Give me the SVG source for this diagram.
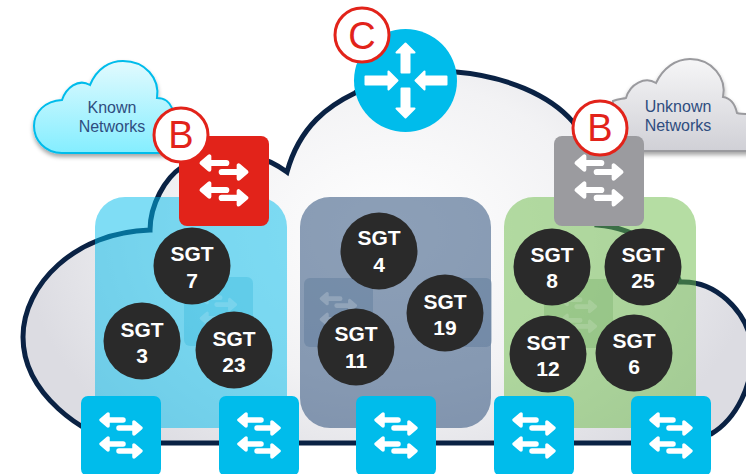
<svg xmlns="http://www.w3.org/2000/svg" xmlns:xlink="http://www.w3.org/1999/xlink" width="746" height="474" viewBox="0 0 746 474">
<style>
.sgt{font:bold 21px "Liberation Sans",Arial,sans-serif;fill:#fff;text-anchor:middle}
.dot{fill:#2a2a2a}
.tag{fill:#fff;stroke:#e2231a;stroke-width:3}
.tagt{font:38px "Liberation Sans",Arial,sans-serif;fill:#e2231a;text-anchor:middle}
.cl{font:16px "Liberation Sans",Arial,sans-serif;fill:#2f4d7f;text-anchor:middle}
.ar{stroke:#fff;stroke-width:5.500;stroke-linecap:round;fill:none}
.hd{fill:#fff;stroke:#fff;stroke-width:3.500;stroke-linejoin:round}
</style>
<defs>
<radialGradient id="main" gradientUnits="userSpaceOnUse" cx="390" cy="230" r="370" gradientTransform="translate(0 60) scale(1 .75)">
<stop offset="0" stop-color="#fff"/><stop offset=".55" stop-color="#f2f2f4"/><stop offset="1" stop-color="#dcdce2"/>
</radialGradient>
<linearGradient id="kn" x1="0" y1="0" x2="0" y2="1"><stop offset="0" stop-color="#e2fafe"/><stop offset="1" stop-color="#84eeff"/></linearGradient>
<linearGradient id="un" x1="0" y1="0" x2="0" y2="1"><stop offset="0" stop-color="#f6f6f7"/><stop offset="1" stop-color="#d0d0d6"/></linearGradient>
<filter id="sh" x="-10%" y="-10%" width="120%" height="130%"><feDropShadow dx="0" dy="3" stdDeviation="2" flood-color="#000" flood-opacity=".35"/></filter>
<g id="arrows">
<path class="ar" d="M26 24H42M54 32H38M26 48H42M54 55H38"/>
<path class="hd" d="M20 24 27 18V30ZM60 32 53 26V38ZM20 48 27 42V54ZM60 55 53 49V61Z"/>
</g>
</defs>

<g id="cloud-shapes">
<path id="big-cloud" d="M120 443C85 435 23 395 23 337C23 285 75 232 150 230C150 205 165 178 182 167C205 150 250 145 287 172C300 125 330 105 355 93C385 68 420 69 456 72C505 76 550 95 573 122C590 145 600 190 597 225C640 228 670 255 680 282C715 280 746 310 752 345C755 385 735 420 711 434L680 443Z" fill="url(#main)" stroke="#0a2244" stroke-width="5"/>
</g>

<g id="known-cloud">
<path d="M62 100C66 88 78 78 90 85C97 68 110 61 123 61C145 61 160 78 157 98C165 98 170 103 172 108L172 153H62C45 153 34 140 34 126C34 112 45 101 62 100Z" fill="url(#kn)" stroke="#00bceb" stroke-width="2" filter="url(#sh)"/>
<text class="cl" x="112" y="113">Known</text><text class="cl" x="112" y="132">Networks</text>
</g>
<g id="unknown-cloud">
<path d="M613 101C618 99 622 99 626 98C630 84 645 76 656 83C663 68 676 59 690 59C712 59 727 78 723 97C730 98 735 104 737 113C740 114 743 114 750 114V151H625L613 151Z" fill="url(#un)" stroke="#9a9a9e" stroke-width="2" filter="url(#sh)"/>
<text class="cl" x="678" y="112">Unknown</text><text class="cl" x="678" y="131">Networks</text>
</g>

<g id="panel-blue">
<path d="M95 428V227A30 30 0 0 1 125 197H257A30 30 0 0 1 287 227V428Z" fill="#00bceb" fill-opacity=".5"/>
<rect x="184" y="277" width="69" height="69" rx="6" fill="#00a0cc" fill-opacity=".2"/>
<use xlink:href="#arrows" transform="translate(184 277) scale(.86)" opacity=".15"/>
</g>
<g id="panel-slate">
<rect x="300" y="197" width="191" height="231" rx="30" fill="#1a3f70" fill-opacity=".5"/>
<rect x="304" y="278" width="69" height="69" rx="6" fill="#4a6a90" fill-opacity=".3"/>
<rect x="423" y="278" width="69" height="69" rx="6" fill="#4a6a90" fill-opacity=".3"/>
<use xlink:href="#arrows" transform="translate(304 278) scale(.86)" opacity=".2"/>
</g>
<g id="panel-green">
<path d="M504 428V227A30 30 0 0 1 534 197H666A30 30 0 0 1 696 227V428Z" fill="#6cbb47" fill-opacity=".5"/>
<rect x="544" y="279" width="69" height="69" rx="6" fill="#5a9a50" fill-opacity=".25"/>
<use xlink:href="#arrows" transform="translate(544 279) scale(.86)" opacity=".15"/>
</g>

<g id="router">
<circle cx="405.500" cy="80.500" r="51.500" fill="#00bceb"/>
<g transform="translate(405.500 80.500)" fill="#fff" stroke="#fff" stroke-width="2" stroke-linejoin="round">
<path d="M0-37-9-28H-4V-8H4V-28H9Z"/>
<path d="M0 37-9 28H-4V8H4V28H9Z"/>
<path d="M-8 0-17-9V-4H-40V4H-17V9Z"/>
<path d="M10 0 19-9V-4H41V4H19V9Z"/>
</g>
</g>

<g id="switch-red"><rect x="179" y="136" width="90" height="90" rx="8" fill="#e2231a"/><use xlink:href="#arrows" transform="translate(179 136) scale(1.125)"/></g>
<g id="switch-gray"><rect x="554" y="136" width="90" height="90" rx="8" fill="#9b9b9f"/><use xlink:href="#arrows" transform="translate(554 136) scale(1.125)"/></g>

<g id="sgt7"><circle class="dot" cx="192" cy="266" r="38.500"/><text class="sgt" x="192" y="261">SGT</text><text class="sgt" x="192" y="288">7</text></g>
<g id="sgt3"><circle class="dot" cx="142" cy="341" r="38.500"/><text class="sgt" x="142" y="337">SGT</text><text class="sgt" x="142" y="363">3</text></g>
<g id="sgt23"><circle class="dot" cx="234" cy="350" r="38.500"/><text class="sgt" x="234" y="346">SGT</text><text class="sgt" x="234" y="372">23</text></g>
<g id="sgt4"><circle class="dot" cx="379" cy="251" r="38.500"/><text class="sgt" x="379" y="245">SGT</text><text class="sgt" x="379" y="272">4</text></g>
<g id="sgt19"><circle class="dot" cx="445" cy="313" r="38.500"/><text class="sgt" x="445" y="309">SGT</text><text class="sgt" x="445" y="335">19</text></g>
<g id="sgt11"><circle class="dot" cx="356" cy="347" r="38.500"/><text class="sgt" x="356" y="341">SGT</text><text class="sgt" x="356" y="368">11</text></g>
<g id="sgt8"><circle class="dot" cx="552" cy="267" r="38.500"/><text class="sgt" x="552" y="262">SGT</text><text class="sgt" x="552" y="288">8</text></g>
<g id="sgt25"><circle class="dot" cx="643" cy="267" r="38.500"/><text class="sgt" x="643" y="262">SGT</text><text class="sgt" x="643" y="288">25</text></g>
<g id="sgt12"><circle class="dot" cx="548" cy="354" r="38.500"/><text class="sgt" x="548" y="350">SGT</text><text class="sgt" x="548" y="376">12</text></g>
<g id="sgt6"><circle class="dot" cx="634" cy="353" r="38.500"/><text class="sgt" x="634" y="348">SGT</text><text class="sgt" x="634" y="374">6</text></g>

<g id="sw1"><rect x="81" y="396" width="80" height="80" rx="7" fill="#00bceb"/><use xlink:href="#arrows" transform="translate(81 396)"/></g>
<g id="sw2"><rect x="219" y="396" width="80" height="80" rx="7" fill="#00bceb"/><use xlink:href="#arrows" transform="translate(219 396)"/></g>
<g id="sw3"><rect x="356" y="396" width="80" height="80" rx="7" fill="#00bceb"/><use xlink:href="#arrows" transform="translate(356 396)"/></g>
<g id="sw4"><rect x="494" y="396" width="80" height="80" rx="7" fill="#00bceb"/><use xlink:href="#arrows" transform="translate(494 396)"/></g>
<g id="sw5"><rect x="631" y="396" width="80" height="80" rx="7" fill="#00bceb"/><use xlink:href="#arrows" transform="translate(631 396)"/></g>

<g id="tag-b1"><circle class="tag" cx="181" cy="135" r="27"/><text class="tagt" x="181" y="148">B</text></g>
<g id="tag-b2"><circle class="tag" cx="600" cy="128" r="27"/><text class="tagt" x="600" y="141">B</text></g>
<g id="tag-c"><circle class="tag" cx="362" cy="35" r="27"/><text class="tagt" x="362" y="49">C</text></g>
</svg>
